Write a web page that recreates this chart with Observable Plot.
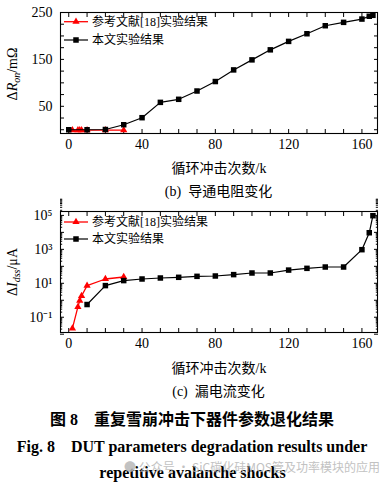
<!DOCTYPE html>
<html><head><meta charset="utf-8">
<script src="https://cdn.jsdelivr.net/npm/d3@7"></script>
<script src="https://cdn.jsdelivr.net/npm/@observablehq/plot@0.6"></script>
<style>
body{margin:0;background:#fff;}
#root{position:relative;width:391px;height:484px;overflow:hidden;font-family:"Liberation Serif","Noto Sans CJK SC",serif;color:#000;}
.abs{position:absolute;white-space:nowrap;transform:translate(-50%,-50%);line-height:1;}
.rot{transform:translate(-50%,-50%) rotate(-90deg);}
svg{position:absolute;left:0;}
sub{font-size:10px;vertical-align:-3px;}
</style></head><body><div id="root"></div>
<script>
// ---- data ----
const legendRef = "参考文献[18]实验结果";
const legendOwn = "本文实验结果";
const cyclesRef = [2, 5, 6, 7, 10, 20, 30];
const ronRef = [-1, -1, -1, -1, -1, -1, -1];
const idssRef = [0.022, 0.41, 0.95, 1.78, 7.3, 17.9, 23.4];
const cyclesOwnR = [0, 10, 20, 30, 40, 50, 60, 70, 80, 90, 100, 110, 120, 130, 140, 150, 160, 164, 166];
const ronOwn = [0, 0, 0.5, 10.7, 25.7, 58.4, 64.9, 82.6, 102.8, 127.6, 149, 170.4, 188.4, 204.7, 221.8, 229, 236, 242, 244];
const cyclesOwnI = [10, 20, 30, 40, 50, 60, 70, 80, 90, 100, 110, 120, 130, 140, 150, 160, 164, 166];
const idssOwn = [0.56, 7.3, 14.4, 17.9, 20.5, 22.5, 25.7, 26.9, 32.4, 40.4, 40.4, 60, 76, 91, 91, 955, 9500, 96000];
const xTicks = [0, 10, 20, 30, 40, 50, 60, 70, 80, 90, 100, 110, 120, 130, 140, 150, 160];
const xLabels = [0, 40, 80, 120, 160];
const ronTicks = [0, 25, 50, 75, 100, 125, 150, 175, 200, 225, 250];
const ronLabels = [50, 150, 250];
const idssMajor = [0.01, 0.1, 1, 10, 100, 1000, 10000, 100000];
const idssLabels = [0.1, 10, 1000, 100000];
const idssLabelText = ["10⁻¹", "10¹", "10³", "10⁵"];
const minorMult = [2, 3, 4, 5, 6, 7, 8, 9];

const refR = cyclesRef.map((c, i) => ({c, v: ronRef[i]}));
const ownR = cyclesOwnR.map((c, i) => ({c, v: ronOwn[i]}));
const refI = cyclesRef.map((c, i) => ({c, v: idssRef[i]}));
const ownI = cyclesOwnI.map((c, i) => ({c, v: idssOwn[i]}));
const idssMinor = idssMajor.flatMap(m => minorMult.map(k => m * k));

const FONT = '"Liberation Serif","Noto Sans CJK SC",serif';
const RED = "#ff0000";
const root = document.getElementById("root");

function frameAxes(yTicks, yLabels, yFmt, yMinor) {
  const m = [
    Plot.frame({stroke: "#000", strokeWidth: 1.1}),
    Plot.axisX({anchor: "bottom", ticks: xTicks, tickSize: -4, tickFormat: () => "", label: null}),
    Plot.axisX({anchor: "top", ticks: xTicks, tickSize: -4, tickFormat: () => "", label: null}),
    Plot.axisX({anchor: "bottom", ticks: xLabels, tickSize: 0, tickPadding: 6, label: null}),
    Plot.axisY({anchor: "left", ticks: yTicks, tickSize: -4, tickFormat: () => "", label: null}),
    Plot.axisY({anchor: "right", ticks: yTicks, tickSize: -4, tickFormat: () => "", label: null}),
    Plot.axisY({anchor: "left", ticks: yLabels, tickSize: 0, tickPadding: 8, tickFormat: yFmt, label: null})
  ];
  if (yMinor) {
    m.push(Plot.axisY({anchor: "left", ticks: yMinor, tickSize: -2.2, tickFormat: () => "", label: null}));
    m.push(Plot.axisY({anchor: "right", ticks: yMinor, tickSize: -2.2, tickFormat: () => "", label: null}));
  }
  return m;
}

function series(ref, own) {
  return [
    Plot.line(ref, {x: "c", y: "v", stroke: RED, strokeWidth: 1.3}),
    Plot.dot(ref, {x: "c", y: "v", symbol: "triangle", r: 2.7, fill: RED, stroke: "none"}),
    Plot.line(own, {x: "c", y: "v", stroke: "#000", strokeWidth: 1.2}),
    Plot.dot(own, {x: "c", y: "v", symbol: "square", r: 3.1, fill: "#000", stroke: "none"})
  ];
}

const common = {
  width: 391, height: 153, marginLeft: 60, marginRight: 14, marginTop: 12, marginBottom: 20,
  style: {fontFamily: FONT, fontSize: "14px", background: "transparent", color: "#000", overflow: "visible"}
};

const p1 = Plot.plot({
  ...common,
  x: {domain: [-4.5, 168.5]},
  y: {domain: [-8, 250]},
  marks: [...frameAxes(ronTicks, ronLabels, d => String(d)), ...series(refR, ownR)]
});
p1.style.top = "0px";
root.appendChild(p1);

const p2 = Plot.plot({
  ...common,
  x: {domain: [-4.5, 168.5]},
  y: {type: "log", domain: [Math.pow(10, -1.9), Math.pow(10, 5.23)]},
  marks: [...frameAxes(idssMajor, idssLabels, d => idssLabelText[idssLabels.indexOf(d)], idssMinor), ...series(refI, ownI)]
});
p2.style.top = "199px";
root.appendChild(p2);

function legend(svg, y1, y2) {
  const s = d3.select(svg);
  const g = s.append("g").attr("font-family", FONT).attr("font-size", 12).attr("text-anchor", "start");
  g.append("line").attr("x1", 64).attr("x2", 88).attr("y1", y1).attr("y2", y1).attr("stroke", RED).attr("stroke-width", 1.3);
  g.append("path").attr("d", d3.symbol(d3.symbolTriangle, Math.PI * 2.7 * 2.7)()).attr("transform", `translate(76,${y1})`).attr("fill", RED);
  g.append("text").attr("x", 92).attr("y", y1).attr("dy", "0.35em").attr("text-anchor", "start").text(legendRef);
  g.append("line").attr("x1", 64).attr("x2", 88).attr("y1", y2).attr("y2", y2).attr("stroke", "#000").attr("stroke-width", 1.2);
  g.append("rect").attr("x", 76 - 2.75).attr("y", y2 - 2.75).attr("width", 5.5).attr("height", 5.5).attr("fill", "#000");
  g.append("text").attr("x", 92).attr("y", y2).attr("dy", "0.35em").attr("text-anchor", "start").text(legendOwn);
}
legend(p1, 21.7, 40);
legend(p2, 23, 40);

function txt(html, x, y, style, cls) {
  const d = document.createElement("div");
  d.className = "abs" + (cls ? " " + cls : "");
  d.style.left = x + "px"; d.style.top = y + "px";
  d.style.cssText += style || "";
  d.innerHTML = html;
  root.appendChild(d);
}
txt("Δ<i>R</i><sub><i>on</i></sub>/mΩ", 14, 73.5, "font-size:14px;", "rot");
txt("Δ<i>I</i><sub><i>dss</i></sub>/μA", 14, 271.5, "font-size:14px;", "rot");
txt("循环冲击次数/k", 219, 169, "font-size:14px;");
txt("(b)&nbsp; 导通电阻变化", 218.5, 192, "font-size:14px;");
txt("循环冲击次数/k", 219, 369, "font-size:14px;");
txt("(c)&nbsp; 漏电流变化", 218.5, 392, "font-size:14px;");
txt("图 8&nbsp;&nbsp;&nbsp; 重复雪崩冲击下器件参数退化结果", 192, 419.5, "font-size:16px;font-weight:bold;");
txt("Fig. 8&nbsp;&nbsp;&nbsp; DUT parameters degradation results under", 192, 447, "font-size:16px;font-weight:bold;");
txt("repetitive avalanche shocks", 192.5, 472.5, "font-size:16px;font-weight:bold;");
txt("● 公众号 · SiC碳化硅MOS管及功率模块的应用", 252, 466.5, "font-size:12px;color:#b8b8b8;font-family:'Noto Sans CJK SC',sans-serif;opacity:0.85;");
</script>
</body></html>
